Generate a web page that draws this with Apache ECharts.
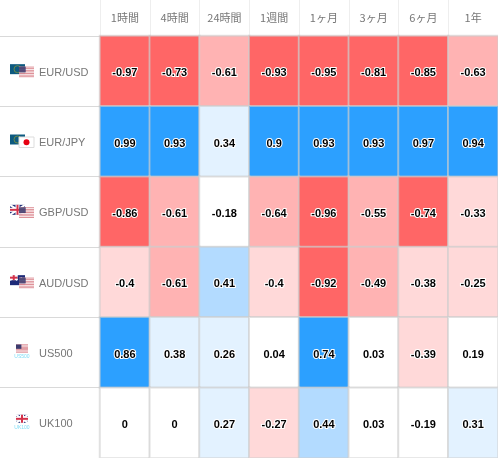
<!DOCTYPE html>
<html><head><meta charset="utf-8">
<style>html,body{margin:0;padding:0;background:#fff}#c{width:498px;height:458px}</style>
<script src="https://cdn.jsdelivr.net/npm/echarts@6/dist/echarts.min.js"></script>
</head><body><div id="c"></div>
<script>
const periods = ['1時間','4時間','24時間','1週間','1ヶ月','3ヶ月','6ヶ月','1年'];
const symbols = ['EUR/USD','EUR/JPY','GBP/USD','AUD/USD','US500','UK100'];
const eurusd = [-0.97,-0.73,-0.61,-0.93,-0.95,-0.81,-0.85,-0.63];
const eurjpy = [0.99,0.93,0.34,0.9,0.93,0.93,0.97,0.94];
const gbpusd = [-0.86,-0.61,-0.18,-0.64,-0.96,-0.55,-0.74,-0.33];
const audusd = [-0.4,-0.61,0.41,-0.4,-0.92,-0.49,-0.38,-0.25];
const us500 = [0.86,0.38,0.26,0.04,0.74,0.03,-0.39,0.19];
const uk100 = [0,0,0.27,-0.27,0.44,0.03,-0.19,0.31];
const rows = [eurusd,eurjpy,gbpusd,audusd,us500,uk100];
const cells = [];
rows.forEach((r,y)=>r.forEach((v,x)=>cells.push([x,y,v])));
const flagPairs = [['eu','us'],['eu','jp'],['gb','us'],['au','us'],['us500',null],['uk100',null]];

function usFlag(x,y,w,h){
  const out=[{type:'rect',shape:{x,y,width:w,height:h},style:{fill:'#fff'}}];
  for(let i=0;i<7;i++)out.push({type:'rect',shape:{x,y:y+i*h/6.5,width:w,height:h/13},style:{fill:'#cf5f6a'}});
  out.push({type:'rect',shape:{x,y,width:w*0.45,height:h*0.54},style:{fill:'#3c3b6e'}});
  return out;
}
function gbFlag(x,y,w,h){
  return [
    {type:'rect',shape:{x,y,width:w,height:h},style:{fill:'#23307a'}},
    {type:'line',shape:{x1:x,y1:y,x2:x+w,y2:y+h},style:{stroke:'#fff',lineWidth:2}},
    {type:'line',shape:{x1:x+w,y1:y,x2:x,y2:y+h},style:{stroke:'#fff',lineWidth:2}},
    {type:'rect',shape:{x:x+w/2-2,y,width:4,height:h},style:{fill:'#fff'}},
    {type:'rect',shape:{x,y:y+h/2-2,width:w,height:4},style:{fill:'#fff'}},
    {type:'rect',shape:{x:x+w/2-1,y,width:2,height:h},style:{fill:'#d4324a'}},
    {type:'rect',shape:{x,y:y+h/2-1,width:w,height:2},style:{fill:'#d4324a'}}
  ];
}
function flagShapes(name,x,y,w,h){
  if(name==='eu'){
    return [{type:'rect',shape:{x,y,width:w,height:h},style:{fill:'#0d5a80'}},
            {type:'circle',shape:{cx:x+w/2,cy:y+h/2,r:3.5},style:{fill:'none',stroke:'#6c8a4a',lineWidth:1}}];
  }
  if(name==='us')return usFlag(x,y,w,h).map(e=>{e.style.opacity=0.85;return e;});
  if(name==='jp'){
    return [{type:'rect',shape:{x,y,width:w,height:h},style:{fill:'#fff',stroke:'#ddd',lineWidth:1}},
            {type:'circle',shape:{cx:x+w/2,cy:y+h/2,r:3},style:{fill:'#e60012'}}];
  }
  if(name==='gb')return gbFlag(x,y,w,h);
  if(name==='au'){
    return [{type:'rect',shape:{x,y,width:w,height:h},style:{fill:'#1d2a78'}}].concat(gbFlag(x,y,w/2,h/2),[
      {type:'circle',shape:{cx:x+w*0.75,cy:y+h*0.3,r:1},style:{fill:'#fff'}},
      {type:'circle',shape:{cx:x+w*0.7,cy:y+h*0.72,r:1},style:{fill:'#fff'}},
      {type:'circle',shape:{cx:x+w*0.9,cy:y+h*0.55,r:1},style:{fill:'#fff'}}]);
  }
  return [];
}

const chart = echarts.init(document.getElementById('c'),null,{renderer:'canvas'});
chart.setOption({
  animation:false,
  backgroundColor:'#fff',
  grid:{left:100,right:0,top:36,bottom:0},
  xAxis:{type:'category',position:'top',data:periods,
    axisLine:{show:true,lineStyle:{color:'#d6d6d6',width:1}},
    axisTick:{show:true,length:36,lineStyle:{color:'#eeeeee',width:1}},
    axisLabel:{color:'#777',fontSize:11,margin:13,interval:0,fontFamily:'"Noto Sans CJK JP","Liberation Sans",sans-serif'},
    splitArea:{show:false},splitLine:{show:false}},
  yAxis:{type:'category',inverse:true,data:symbols,
    axisLine:{show:false},
    axisTick:{show:true,length:100,lineStyle:{color:'#d9d9d9',width:1}},
    axisLabel:{color:'#777',fontSize:11,margin:11,interval:0,fontFamily:'"Liberation Sans",Arial,sans-serif',
      align:'left',verticalAlign:'top',lineHeight:3,padding:[0,0,0,-50]},
    splitLine:{show:false}},
  visualMap:{show:false,type:'piecewise',dimension:2,seriesIndex:0,
    pieces:[
      {lt:-0.7,color:'#ff6666'},
      {gte:-0.7,lt:-0.4,color:'#ffb3b3'},
      {gte:-0.4,lt:-0.2,color:'#ffd9d9'},
      {gte:-0.2,lt:0.2,color:'#ffffff'},
      {gte:0.2,lt:0.4,color:'#e3f2ff'},
      {gte:0.4,lt:0.7,color:'#b3dbff'},
      {gte:0.7,color:'#2ca0ff'}
    ]},
  series:[{type:'heatmap',data:cells,
    itemStyle:{borderColor:'rgba(205,205,205,0.6)',borderWidth:2},
    label:{show:true,color:'#000',fontSize:11,fontWeight:'bold',offset:[0,2],fontFamily:'"Liberation Sans",Arial,sans-serif',
      textBorderColor:'#fff',textBorderWidth:2,
      formatter:p=>String(p.value[2])},
    emphasis:{disabled:true}
  }]
});
const g=[];
symbols.forEach((s,i)=>{
  const cy=chart.convertToPixel({yAxisIndex:0},s);
  const [a,b]=flagPairs[i];
  if(b){
    flagShapes(a,10,cy-7,15,10).forEach(e=>g.push(e));
    flagShapes(b,19,cy-4.5,15,10.5).forEach(e=>g.push(e));
  } else {
    const sh=a==='us500'?usFlag(16,cy-8,12,8):gbFlag(16,cy-8,12,8);
    sh.forEach(e=>g.push(e));
    g.push({type:'text',style:{x:22,y:cy+2,text:s,fill:'#7fdcf5',fontSize:5,align:'center',fontFamily:'"Liberation Sans",Arial,sans-serif'}});
  }
});
chart.setOption({graphic:{elements:g.map(e=>Object.assign({silent:true,z:10},e))}});
</script></body></html>
